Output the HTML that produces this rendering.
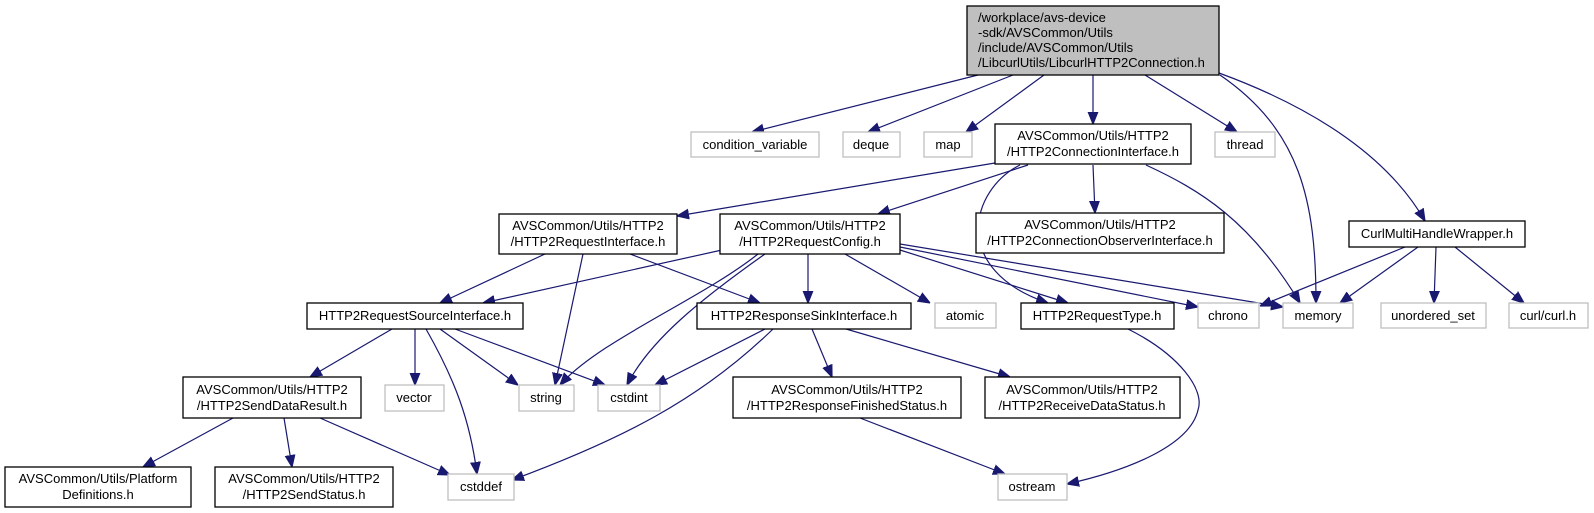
<!DOCTYPE html>
<html><head><meta charset="utf-8"><style>
html,body{margin:0;padding:0;background:#fff;}
svg{display:block;}
text{font-family:"Liberation Sans",Helvetica,Arial,sans-serif;font-size:13px;fill:#000;}
.b{fill:#fff;stroke:#000;stroke-width:1.3;}
.g{fill:#fff;stroke:#bfbfbf;stroke-width:1.3;}
.e{fill:none;stroke:#191970;stroke-width:1.2;marker-end:url(#a);}
</style></head><body>
<svg width="1594" height="513" viewBox="0 0 1594 513" xmlns="http://www.w3.org/2000/svg">
<defs><marker id="a" viewBox="0 0 10 10" refX="10" refY="5" markerWidth="12" markerHeight="12" markerUnits="userSpaceOnUse" orient="auto"><path d="M0,1 L10,5 L0,9 z" fill="#191970" stroke="#191970"/></marker></defs>

<path class="e" d="M978,75 L752,132"/>
<path class="e" d="M1013,75 L868,132"/>
<path class="e" d="M1044,75 L966,132"/>
<path class="e" d="M1093,75 L1093,124"/>
<path class="e" d="M1145,75 L1237,132"/>
<path class="e" d="M1220,75 C1300,130 1316,200 1316,303"/>
<path class="e" d="M1219,73 C1320,110 1390,160 1425,221"/>
<path class="e" d="M995,163 L677,216"/>
<path class="e" d="M1028,165 L878,214"/>
<path class="e" d="M1093,165 L1095,213"/>
<path class="e" d="M1146,165 C1200,190 1250,220 1300,303"/>
<path class="e" d="M1020,165 C970,190 950,270 1048,303"/>
<path class="e" d="M545,254 L440,303"/>
<path class="e" d="M583,254 L555,385"/>
<path class="e" d="M630,254 L760,303"/>
<path class="e" d="M722,250 L483,303"/>
<path class="e" d="M758,254 C700,300 600,340 560,385"/>
<path class="e" d="M765,254 C700,300 650,340 627,385"/>
<path class="e" d="M808,254 L808,303"/>
<path class="e" d="M845,254 L930,303"/>
<path class="e" d="M900,250 L1068,303"/>
<path class="e" d="M900,247 L1198,307"/>
<path class="e" d="M900,244 L1283,307"/>
<path class="e" d="M1405,247 L1260,306"/>
<path class="e" d="M1418,247 L1340,303"/>
<path class="e" d="M1436,247 L1434,303"/>
<path class="e" d="M1455,247 L1524,303"/>
<path class="e" d="M392,329 L310,377"/>
<path class="e" d="M415,329 L415,385"/>
<path class="e" d="M426,329 C455,380 470,420 477,474"/>
<path class="e" d="M440,329 L518,385"/>
<path class="e" d="M455,329 L605,385"/>
<path class="e" d="M765,329 L655,385"/>
<path class="e" d="M773,329 C700,400 620,440 512,480"/>
<path class="e" d="M812,329 L832,377"/>
<path class="e" d="M846,329 L1010,377"/>
<path class="e" d="M1128,329 C1180,355 1205,390 1198,410 C1190,445 1130,470 1067,484"/>
<path class="e" d="M233,418 L143,467"/>
<path class="e" d="M284,418 L292,467"/>
<path class="e" d="M320,418 L450,475"/>
<path class="e" d="M860,418 L1005,474"/>

<rect x="967" y="6" width="252" height="69" fill="#bfbfbf" stroke="#000" stroke-width="1.3"/>
<text x="978" y="22">/workplace/avs-device</text>
<text x="978" y="37">-sdk/AVSCommon/Utils</text>
<text x="978" y="52">/include/AVSCommon/Utils</text>
<text x="978" y="67">/LibcurlUtils/LibcurlHTTP2Connection.h</text>

<rect class="g" x="691" y="132" width="128" height="25"/><text x="755" y="149" text-anchor="middle">condition_variable</text>
<rect class="g" x="843" y="132" width="57" height="25"/><text x="871" y="149" text-anchor="middle">deque</text>
<rect class="g" x="924" y="132" width="48" height="25"/><text x="948" y="149" text-anchor="middle">map</text>
<rect class="b" x="995" y="124" width="196" height="40"/><text x="1093" y="140" text-anchor="middle">AVSCommon/Utils/HTTP2</text><text x="1093" y="156" text-anchor="middle">/HTTP2ConnectionInterface.h</text>
<rect class="g" x="1215" y="132" width="60" height="25"/><text x="1245" y="149" text-anchor="middle">thread</text>

<rect class="b" x="499" y="214" width="178" height="40"/><text x="588" y="230" text-anchor="middle">AVSCommon/Utils/HTTP2</text><text x="588" y="246" text-anchor="middle">/HTTP2RequestInterface.h</text>
<rect class="b" x="720" y="214" width="180" height="40"/><text x="810" y="230" text-anchor="middle">AVSCommon/Utils/HTTP2</text><text x="810" y="246" text-anchor="middle">/HTTP2RequestConfig.h</text>
<rect class="b" x="976" y="213" width="248" height="40"/><text x="1100" y="229" text-anchor="middle">AVSCommon/Utils/HTTP2</text><text x="1100" y="245" text-anchor="middle">/HTTP2ConnectionObserverInterface.h</text>
<rect class="b" x="1349" y="221" width="176" height="26"/><text x="1437" y="238" text-anchor="middle">CurlMultiHandleWrapper.h</text>

<rect class="b" x="307" y="303" width="216" height="26"/><text x="415" y="320" text-anchor="middle">HTTP2RequestSourceInterface.h</text>
<rect class="b" x="697" y="303" width="214" height="26"/><text x="804" y="320" text-anchor="middle">HTTP2ResponseSinkInterface.h</text>
<rect class="g" x="935" y="303" width="61" height="25"/><text x="965" y="320" text-anchor="middle">atomic</text>
<rect class="b" x="1021" y="303" width="153" height="26"/><text x="1097" y="320" text-anchor="middle">HTTP2RequestType.h</text>
<rect class="g" x="1198" y="303" width="61" height="25"/><text x="1228" y="320" text-anchor="middle">chrono</text>
<rect class="g" x="1283" y="303" width="70" height="25"/><text x="1318" y="320" text-anchor="middle">memory</text>
<rect class="g" x="1381" y="303" width="105" height="25"/><text x="1433" y="320" text-anchor="middle">unordered_set</text>
<rect class="g" x="1509" y="303" width="79" height="25"/><text x="1548" y="320" text-anchor="middle">curl/curl.h</text>

<rect class="b" x="183" y="377" width="178" height="41"/><text x="272" y="394" text-anchor="middle">AVSCommon/Utils/HTTP2</text><text x="272" y="410" text-anchor="middle">/HTTP2SendDataResult.h</text>
<rect class="g" x="385" y="385" width="59" height="26"/><text x="414" y="402" text-anchor="middle">vector</text>
<rect class="g" x="519" y="385" width="55" height="26"/><text x="546" y="402" text-anchor="middle">string</text>
<rect class="g" x="598" y="385" width="62" height="26"/><text x="629" y="402" text-anchor="middle">cstdint</text>
<rect class="b" x="733" y="377" width="228" height="41"/><text x="847" y="394" text-anchor="middle">AVSCommon/Utils/HTTP2</text><text x="847" y="410" text-anchor="middle">/HTTP2ResponseFinishedStatus.h</text>
<rect class="b" x="985" y="377" width="195" height="41"/><text x="1082" y="394" text-anchor="middle">AVSCommon/Utils/HTTP2</text><text x="1082" y="410" text-anchor="middle">/HTTP2ReceiveDataStatus.h</text>

<rect class="b" x="5" y="467" width="186" height="40"/><text x="98" y="483" text-anchor="middle">AVSCommon/Utils/Platform</text><text x="98" y="499" text-anchor="middle">Definitions.h</text>
<rect class="b" x="215" y="467" width="178" height="40"/><text x="304" y="483" text-anchor="middle">AVSCommon/Utils/HTTP2</text><text x="304" y="499" text-anchor="middle">/HTTP2SendStatus.h</text>
<rect class="g" x="448" y="474" width="66" height="26"/><text x="481" y="491" text-anchor="middle">cstddef</text>
<rect class="g" x="998" y="474" width="69" height="26"/><text x="1032" y="491" text-anchor="middle">ostream</text>
</svg>
</body></html>
